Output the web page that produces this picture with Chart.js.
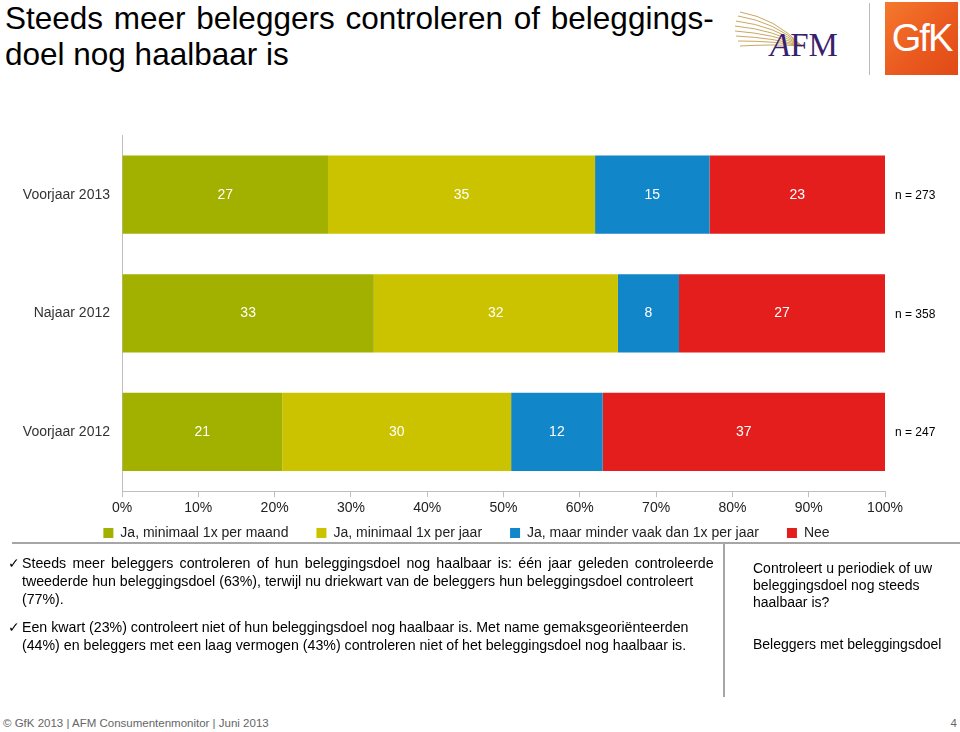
<!DOCTYPE html>
<html>
<head>
<meta charset="utf-8">
<script src="https://cdn.jsdelivr.net/npm/chart.js@4/dist/chart.umd.min.js"></script>
<style>
  body { margin: 0; width: 960px; height: 732px; background: #fff; position: relative; overflow: hidden;
         font-family: Arial, "Liberation Sans", sans-serif; }
  #title { position: absolute; left: 5px; top: 0px; font-size: 31.5px; line-height: 36px; color: #000; }
  #title .l1 { word-spacing: 2px; }
  #chartBox { position: absolute; left: 0; top: 115px; width: 960px; height: 457px; }
  #sep { position: absolute; left: 12px; top: 542px; width: 948px; height: 2px; background: #a6a6a6; }
  #vsep { position: absolute; left: 723px; top: 544px; width: 2px; height: 153px; background: #a6a6a6; }
  #bullets { position: absolute; left: 8px; top: 554px; width: 710px; font-size: 14.2px; line-height: 18px; color: #000; }
  #bullets .b { position: relative; padding-left: 14px; margin-bottom: 10px; }
  #bullets .b span.ck { position: absolute; left: 0; top: 0; }
  #bullets .wide { word-spacing: 2.3px; }
  #side { position: absolute; left: 753px; top: 560px; width: 205px; font-size: 14px; line-height: 17px; color: #000; }
  #side2 { position: absolute; left: 753px; top: 636px; width: 205px; font-size: 14px; line-height: 17px; color: #000; }
  #footer { position: absolute; left: 3px; top: 717px; font-size: 11.5px; color: #666; }
  #page { position: absolute; right: 3px; top: 717px; font-size: 11.5px; color: #666; }
  #gfk { position: absolute; left: 885px; top: 2px; width: 73px; height: 73px;
         background: linear-gradient(135deg, #f5792d 0%, #ea5a1f 55%, #e04a16 100%); color: #fff;
         font-size: 38px; line-height: 73px; text-align: center; letter-spacing: -2px; }
  #logoline { position: absolute; left: 869px; top: 3px; width: 1px; height: 72px; background: #bbb; }
  #afm { position: absolute; left: 730px; top: 6px; }
</style>
</head>
<body>
<div id="title"><span class="l1">Steeds meer beleggers controleren of beleggings-</span><br>doel nog haalbaar is</div>

<svg id="afm" width="125" height="60" viewBox="0 0 125 60">
  <g stroke="#c8a862" stroke-width="1" fill="none">
    <path d="M10 6 Q45 12 72 40"/>
    <path d="M8 10 Q45 16 72 40"/>
    <path d="M6 15 Q45 20 72 40"/>
    <path d="M5 20 Q45 24 72 40"/>
    <path d="M5 25 Q45 28 72 40"/>
    <path d="M6 30 Q45 32 72 40"/>
    <path d="M8 35 Q45 35 72 40"/>
    <path d="M10 40 Q45 38 72 40"/>
  </g>
  <text x="40" y="50" font-family="'Liberation Serif', 'DejaVu Serif', serif" font-size="33" fill="#3a1f6e">
    <tspan font-style="italic">A</tspan>FM</text>
</svg>
<div id="logoline"></div>
<div id="gfk">GfK</div>

<div id="chartBox"><canvas id="chart"></canvas></div>

<div id="sep"></div>
<div id="vsep"></div>

<div id="bullets">
  <div class="b"><span class="ck">&#10003;</span><span class="wide">Steeds meer beleggers controleren of hun beleggingsdoel nog haalbaar is: één jaar geleden controleerde</span><br>tweederde hun beleggingsdoel (63%), terwijl nu driekwart van de beleggers hun beleggingsdoel controleert<br>(77%).</div>
  <div class="b"><span class="ck">&#10003;</span>Een kwart (23%) controleert niet of hun beleggingsdoel nog haalbaar is. Met name gemaksgeoriënteerden<br>(44%) en beleggers met een laag vermogen (43%) controleren niet of het beleggingsdoel nog haalbaar is.</div>
</div>

<div id="side">Controleert u periodiek of uw<br>beleggingsdoel nog steeds<br>haalbaar is?</div>
<div id="side2">Beleggers met beleggingsdoel</div>

<div id="footer">© GfK 2013 | AFM Consumentenmonitor | Juni 2013</div>
<div id="page">4</div>

<script>
const periods = ["Voorjaar 2013", "Najaar 2012", "Voorjaar 2012"];
const sampleSizes = ["n = 273", "n = 358", "n = 247"];
const seriesNames = ["Ja, minimaal 1x per maand", "Ja, minimaal 1x per jaar", "Ja, maar minder vaak dan 1x per jaar", "Nee"];
const maandelijks = [27, 33, 21];
const jaarlijks = [35, 32, 30];
const minderVaak = [15, 8, 12];
const nee = [23, 27, 37];
const xTicks = [0, 10, 20, 30, 40, 50, 60, 70, 80, 90, 100];

const colors = ["#a2b000", "#cbc300", "#1186c8", "#e31e1d"];
const fontFam = "Arial, 'Liberation Sans', sans-serif";

// values in the middle of each bar segment, n = ... right of the bars
const barValues = {
    id: "barValues",
    afterDatasetsDraw(chart) {
        const ctx = chart.ctx;
        ctx.save();
        ctx.font = "14px " + fontFam;
        ctx.fillStyle = "#fff";
        ctx.textAlign = "center";
        ctx.textBaseline = "middle";
        chart.data.datasets.forEach((ds, i) => {
            const meta = chart.getDatasetMeta(i);
            meta.data.forEach((bar, j) => {
                ctx.fillText(ds.data[j], (bar.x + bar.base) / 2, bar.y);
            });
        });
        ctx.font = "12px " + fontFam;
        ctx.fillStyle = "#000";
        ctx.textAlign = "left";
        chart.getDatasetMeta(0).data.forEach((bar, j) => {
            ctx.fillText(sampleSizes[j], chart.chartArea.right + 10, bar.y + 1);
        });
        ctx.restore();
    }
};

// move the legend a bit, like on the slide
const legendShift = {
    id: "legendShift",
    afterLayout(chart) {
        const l = chart.legend;
        l.left += 24; l.right += 24;
        l.top -= 22; l.bottom -= 22;
    }
};

const datasets = [maandelijks, jaarlijks, minderVaak, nee].map((vals, i) => ({
    label: seriesNames[i],
    data: vals,
    backgroundColor: colors[i],
    borderWidth: 0,
    categoryPercentage: 1,
    barPercentage: 0.66
}));

new Chart(document.getElementById("chart"), {
    type: "bar",
    data: { labels: periods, datasets: datasets },
    plugins: [barValues, legendShift],
    options: {
        indexAxis: "y",
        responsive: true,
        maintainAspectRatio: false,
        animation: false,
        layout: { padding: { top: 6, left: 0, right: 75, bottom: 0 } },
        plugins: {
            tooltip: { enabled: false },
            legend: {
                position: "bottom",
                labels: {
                    font: { family: fontFam, size: 14 },
                    color: "#222",
                    boxWidth: 10,
                    boxHeight: 10,
                    padding: 28
                }
            }
        },
        scales: {
            x: {
                stacked: true,
                min: 0,
                max: 100,
                afterBuildTicks(scale) {
                    scale.ticks = xTicks.map(v => ({ value: v }));
                },
                grid: { drawOnChartArea: false, drawTicks: true, tickLength: 6, color: "#bfbfbf" },
                border: { color: "#bfbfbf", width: 1 },
                ticks: {
                    font: { family: fontFam, size: 14 },
                    color: "#222",
                    padding: 3,
                    callback: v => v + "%"
                }
            },
            y: {
                stacked: true,
                afterFit(scale) { scale.width = 122; },
                grid: { display: false, drawTicks: false },
                border: { color: "#bfbfbf", width: 1 },
                ticks: {
                    font: { family: fontFam, size: 14 },
                    color: "#333",
                    padding: 12
                }
            }
        }
    }
});
</script>
</body>
</html>
